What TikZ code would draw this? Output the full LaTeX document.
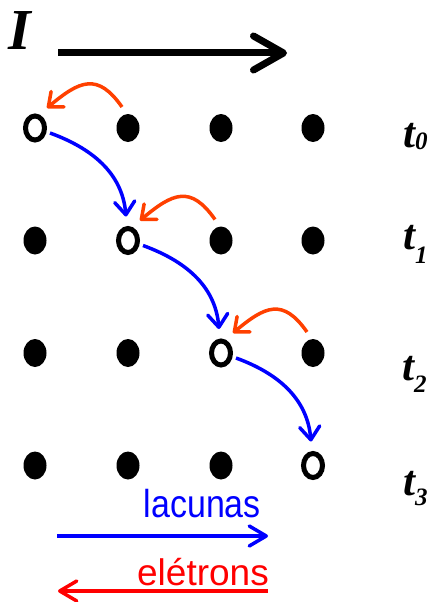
\documentclass[tikz,border=0pt]{standalone}
\usepackage{fontspec}
\setmainfont{Liberation Serif}
\setsansfont{Liberation Sans}
\usetikzlibrary{arrows.meta,shapes.geometric}
\definecolor{hopred}{RGB}{255,64,0}
\definecolor{holeblue}{RGB}{0,0,255}
\definecolor{elred}{RGB}{255,0,0}
\tikzset{
  dot/.style={ellipse,fill=black,minimum width=23pt,minimum height=28pt,inner sep=0pt},
  hole/.style={ellipse,draw=black,line width=5pt,minimum width=19pt,minimum height=24pt,inner sep=0pt},
  hop/.style={draw=hopred,line width=3.5pt,-{Straight Barb[length=12pt,width=20pt,round]}},
  jump/.style={draw=holeblue,line width=3.5pt,-{Straight Barb[length=13pt,width=20pt,round]}},
  tlabel/.style={anchor=base west,inner sep=0pt,font=\fontsize{43}{43}\selectfont\bfseries\itshape},
  legend/.style={anchor=base east,inner sep=0pt,font=\sffamily}
}
\begin{document}
\begin{tikzpicture}[x=1pt,y=1pt]
\useasboundingbox (0,0) rectangle (434,-602);
% current
\node[anchor=base west,inner sep=0pt,font=\fontsize{58}{58}\selectfont\bfseries\itshape] (I) at (8,-49) {I};
\coordinate (c1) at (58,-53);
\coordinate (c2) at (287,-53);
\draw[line width=7pt,-{Straight Barb[length=30pt,width=34pt,round]}] (c1) -- (c2);
% lattice
\foreach \r/\y in {0/128,1/240.5,2/353,3/465.5}{
  \foreach \c/\x in {0/35,1/128,2/221,3/313}{
    \ifnum\r=\c
      \node[hole] (n-\r-\c) at (\x,-\y) {};
    \else
      \node[dot] (n-\r-\c) at (\x,-\y) {};
    \fi
  }
}
% electron hops and hole jumps
\foreach \r in {0,1,2}{
  \pgfmathtruncatemacro{\nx}{\r+1}
  \draw[hop] ([shift={(-6pt,21pt)}]n-\r-\nx.center) to[out=125,in=40,looseness=1.45] ([shift={(12pt,20pt)}]n-\r-\r.center);
  \draw[jump] ([shift={(15pt,-5pt)}]n-\r-\r.center) to[out=-20,in=95] ([shift={(-2pt,24pt)}]n-\nx-\nx.center);
}
% time labels
\node[tlabel] (t0) at (403,-147) {t\raisebox{-2pt}{\fontsize{25}{25}\selectfont 0}};
\node[tlabel] (t1) at (403,-249) {t\raisebox{-14pt}{\fontsize{25}{25}\selectfont 1}};
\node[tlabel] (t2) at (402,-380) {t\raisebox{-12pt}{\fontsize{25}{25}\selectfont 2}};
\node[tlabel] (t3) at (403,-495) {t\raisebox{-10pt}{\fontsize{25}{25}\selectfont 3}};
% legend
\node[legend,text=holeblue,font=\sffamily\fontsize{39}{39}\selectfont] (lac) at (261,-517) {\scalebox{0.87}[1]{lacunas}};
\coordinate (b1) at (57,-536);
\coordinate (b2) at (268,-536);
\draw[holeblue,line width=3.5pt,-{Straight Barb[length=17pt,width=20pt,round]}] (b1) -- (b2);
\node[legend,text=elred,font=\sffamily\fontsize{37}{37}\selectfont] (el) at (269,-585) {el\'etrons};
\coordinate (r1) at (268,-591);
\coordinate (r2) at (58,-591);
\draw[elred,line width=3.5pt,-{Straight Barb[length=17pt,width=20pt,round]}] (r1) -- (r2);
\end{tikzpicture}
\end{document}
